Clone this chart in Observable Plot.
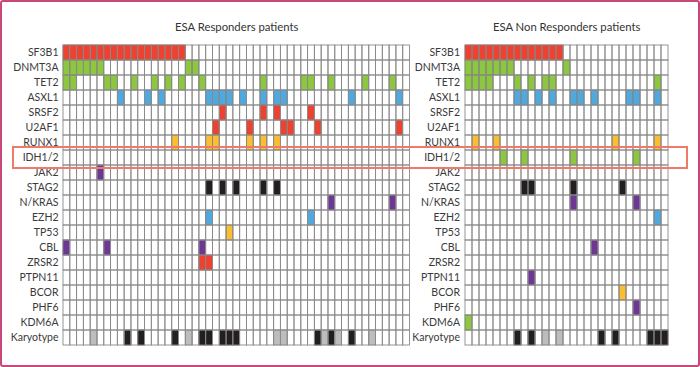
<!DOCTYPE html>
<html>
<head>
<meta charset="utf-8">
<script src="https://cdn.jsdelivr.net/npm/d3@7"></script>
<script src="https://cdn.jsdelivr.net/npm/@observablehq/plot@0.6"></script>
<style>
  html, body { margin: 0; padding: 0; background: #fff; }
  #wrap { position: relative; width: 700px; height: 367px; overflow: hidden; background: #fff; }
  #wrap svg { position: absolute; left: 0; top: 0; }
  #frame { position: absolute; left: 0; top: 0; width: 696px; height: 363px; border: 2px solid #c9487a; border-radius: 3px; pointer-events: none; }
  #hl { position: absolute; border: 2px solid #f07a68; pointer-events: none; }
</style>
</head>
<body>
<div id="wrap"><div id="frame"></div></div>
<script>
const genes = ["SF3B1","DNMT3A","TET2","ASXL1","SRSF2","U2AF1","RUNX1","IDH1/2","JAK2","STAG2","N/KRAS","EZH2","TP53","CBL","ZRSR2","PTPN11","BCOR","PHF6","KDM6A","Karyotype"];
const geneColorKeys = ["red","green","green","blue","red","red","orange","green","purple","black","purple","blue","orange","purple","red","purple","orange","purple","green","black"];
const palette = {red:"#ee4130", green:"#8dc63f", blue:"#4fa9df", orange:"#fbbd32", purple:"#6e3796", black:"#231f20", gray:"#bdbdbd"};
const paletteStroke = {red:"#c6341f", green:"#6fa22c", blue:"#3a88b8", orange:"#d89b1c", purple:"#562a78", black:"#111", gray:"#a0a0a0"};

const titles = ["ESA Responders patients", "ESA Non Responders patients"];
const nResponders = 51;
const nNonResponders = 29;

// mutated patient indices per gene (same order as genes, Karyotype handled separately)
const responderHits = [
  [0,1,2,3,4,5,6,7,8,9,10,11,12,13,14,15,16,17],
  [0,1,2,3,4,5,18,19],
  [0,1,6,7,10,13,15,17,20,29,35,36,39,44,48],
  [8,12,14,21,22,23,24,26,29,31,32,42,49],
  [23,29,31,36],
  [22,27,32,33,37,49],
  [16,21,22,27,29,31],
  [],
  [5],
  [21,23,25,29,31],
  [39,48],
  [21,36],
  [24],
  [0,6,20],
  [20,21],
  [],
  [],
  [],
  []
];
const responderKaryoAbnormal = [9,11,16,20,21,23,24,25,37,39,42];
const responderKaryoOther = [4,18,31,32,38,40,45];

const nonResponderHits = [
  [0,1,2,3,4,5,6,7,8,9,10,11,12,13],
  [0,1,2,3,4,5,6,14],
  [0,1,2,3,7,9,11,12,27],
  [7,8,10,12,15,16,18,23,24,27],
  [],
  [],
  [1,4,21,27],
  [5,8,15,24],
  [],
  [8,9,15,22],
  [15,24],
  [27],
  [],
  [18],
  [],
  [9],
  [22],
  [24],
  [0]
];
const nonResponderKaryoAbnormal = [7,9,19,21,26,27,28];
const nonResponderKaryoOther = [11,13];

function buildCells(hits, abn, oth) {
  const out = [];
  hits.forEach((cols, gi) => cols.forEach(c => out.push({gene: genes[gi], col: c, key: geneColorKeys[gi]})));
  abn.forEach(c => out.push({gene: "Karyotype", col: c, key: "black"}));
  oth.forEach(c => out.push({gene: "Karyotype", col: c, key: "gray"}));
  return out;
}

function panel(n, hits, abn, oth, title, mLeft, mRight) {
  const all = d3.cross(genes, d3.range(n)).map(([g, c]) => ({gene: g, col: c}));
  const cells = buildCells(hits, abn, oth);
  return Plot.plot({
    width: 700, height: 367,
    marginLeft: mLeft, marginRight: mRight, marginTop: 39, marginBottom: 17,
    style: {background: "transparent", fontFamily: "Lato, 'Open Sans', sans-serif", fontSize: "10.5px", color: "#3a3a3a"},
    x: {type: "band", domain: d3.range(n), padding: 0, axis: null},
    y: {type: "band", domain: genes, padding: 0, label: null, tickSize: 0, tickPadding: 5},
    marks: [
      Plot.cell(all, {x: "col", y: "gene", fill: "white"}),
      Plot.cell(cells, {x: "col", y: "gene", fill: d => palette[d.key], stroke: d => paletteStroke[d.key], strokeWidth: 0.6}),
      Plot.cell(all, {x: "col", y: "gene", fill: "none", stroke: "#8a8a8a", strokeWidth: 0.9}),
      Plot.text([title], {frameAnchor: "top", dy: -17, text: d => d, fontSize: 11.3, fill: "#333"})
    ]
  });
}

const wrap = document.getElementById("wrap");
const p1 = panel(nResponders, responderHits, responderKaryoAbnormal, responderKaryoOther, titles[0], 63, 290.5);
const p2 = panel(nNonResponders, nonResponderHits, nonResponderKaryoAbnormal, nonResponderKaryoOther, titles[1], 464.5, 32.3);
wrap.insertBefore(p2, wrap.firstChild);
wrap.insertBefore(p1, wrap.firstChild);

// highlight box around the IDH1/2 row, positioned from the band scale
const ys = p1.scale("y");
const yTop = ys.apply("IDH1/2");
const hl = document.createElement("div");
hl.id = "hl";
hl.style.left = "12px";
hl.style.top = (yTop - 4) + "px";
hl.style.width = "672px";
hl.style.height = (ys.bandwidth + 4) + "px";
wrap.appendChild(hl);
</script>
</body>
</html>
